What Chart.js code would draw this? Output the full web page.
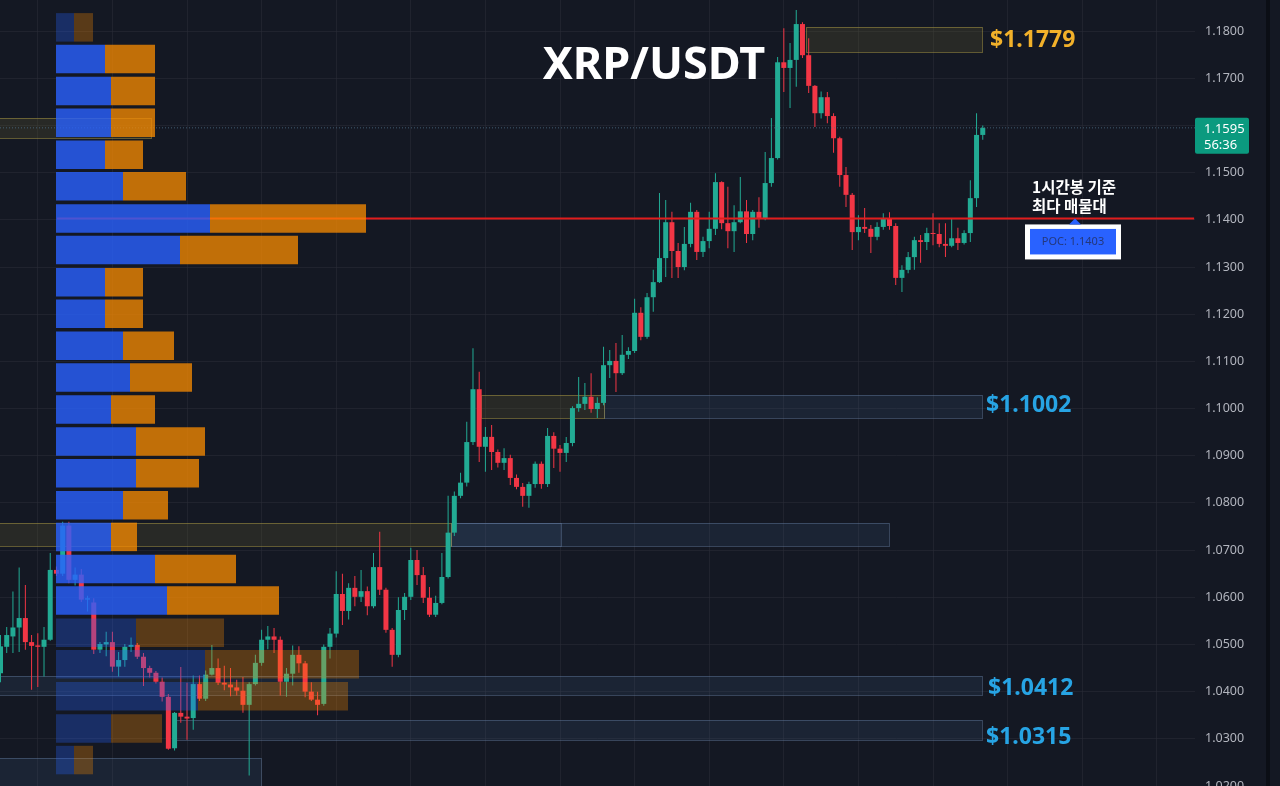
<!DOCTYPE html>
<html><head><meta charset="utf-8">
<script src="https://cdn.jsdelivr.net/npm/chart.js@4.4.1/dist/chart.umd.min.js"></script>
<style>html,body{margin:0;padding:0;background:#141823;overflow:hidden}canvas{display:block}</style>
</head><body><canvas id="c" width="1280" height="786"></canvas>
<script>
// ---- 1H candles XRP/USDT (index 0 = leftmost visible) ----
const candleOpen = [
 1.0439,1.0495,1.0517,1.0536,1.0556,1.0505,1.0498,1.0495,1.0510,1.0658,
 1.0650,1.0752,1.0637,1.0648,1.0595,1.0589,1.0489,1.0500,1.0505,1.0453,
 1.0467,1.0495,1.0499,1.0474,1.0450,1.0440,1.0421,1.0389,1.0280,1.0355,
 1.0347,1.0344,1.0416,1.0385,1.0436,1.0450,1.0419,1.0415,1.0409,1.0402,
 1.0372,1.0416,1.0461,1.0510,1.0517,1.0510,1.0421,1.0438,1.0478,1.0460,
 1.0400,1.0383,1.0374,1.0495,1.0523,1.0607,1.0571,1.0620,1.0601,1.0613,
 1.0581,1.0664,1.0616,1.0531,1.0478,1.0573,1.0601,1.0679,1.0647,1.0599,
 1.0563,1.0588,1.0643,1.0737,1.0815,1.0843,1.0929,1.1041,1.0919,1.0940,
 1.0908,1.0885,1.0895,1.0853,1.0834,1.0815,1.0840,1.0883,1.0840,1.0942,
 1.0915,1.0906,1.0927,1.1001,1.1010,1.1025,1.0999,1.1012,1.1092,1.1101,
 1.1075,1.1114,1.1122,1.1203,1.1152,1.1236,1.1268,1.1319,1.1395,1.1334,
 1.1300,1.1349,1.1417,1.1332,1.1355,1.1381,1.1480,1.1393,1.1376,1.1395,
 1.1418,1.1370,1.1417,1.1404,1.1478,1.1531,1.1734,1.1722,1.1739,1.1815,
 1.1749,1.1684,1.1626,1.1660,1.1620,1.1573,1.1495,1.1453,1.1374,1.1385,
 1.1381,1.1364,1.1385,1.1402,1.1387,1.1277,1.1294,1.1321,1.1357,1.1353,
 1.1372,1.1370,1.1349,1.1345,1.1361,1.1351,1.1372,1.1446,1.1580];
const candleHigh = [
 1.0520,1.0537,1.0612,1.0663,1.0626,1.0520,1.0524,1.0537,1.0694,1.0665,
 1.0760,1.0760,1.0663,1.0660,1.0603,1.0598,1.0505,1.0527,1.0527,1.0484,
 1.0501,1.0515,1.0503,1.0482,1.0455,1.0444,1.0430,1.0395,1.0357,1.0452,
 1.0419,1.0434,1.0434,1.0445,1.0499,1.0470,1.0455,1.0450,1.0425,1.0431,
 1.0420,1.0478,1.0531,1.0539,1.0535,1.0517,1.0450,1.0498,1.0496,1.0465,
 1.0420,1.0400,1.0500,1.0535,1.0655,1.0650,1.0630,1.0645,1.0658,1.0623,
 1.0694,1.0739,1.0620,1.0535,1.0600,1.0609,1.0705,1.0700,1.0664,1.0622,
 1.0603,1.0694,1.0815,1.0824,1.0864,1.0972,1.1128,1.1078,1.0961,1.0965,
 1.0913,1.0916,1.0902,1.0860,1.0842,1.0845,1.0888,1.0888,1.0959,1.0950,
 1.0923,1.0940,1.1005,1.1067,1.1054,1.1075,1.1024,1.1131,1.1124,1.1139,
 1.1156,1.1130,1.1233,1.1215,1.1245,1.1294,1.1457,1.1442,1.1417,1.1351,
 1.1385,1.1436,1.1421,1.1364,1.1417,1.1499,1.1482,1.1470,1.1431,1.1491,
 1.1442,1.1421,1.1448,1.1544,1.1616,1.1745,1.1806,1.1775,1.1845,1.1819,
 1.1785,1.1686,1.1672,1.1671,1.1626,1.1576,1.1512,1.1457,1.1410,1.1425,
 1.1389,1.1395,1.1414,1.1416,1.1393,1.1304,1.1332,1.1364,1.1368,1.1383,
 1.1414,1.1393,1.1393,1.1404,1.1383,1.1378,1.1484,1.1626,1.1600];
const candleLow = [
 1.0420,1.0482,1.0482,1.0484,1.0489,1.0404,1.0410,1.0432,1.0508,1.0645,
 1.0645,1.0630,1.0625,1.0590,1.0570,1.0480,1.0482,1.0475,1.0442,1.0432,
 1.0453,1.0484,1.0469,1.0412,1.0430,1.0417,1.0379,1.0277,1.0275,1.0334,
 1.0298,1.0319,1.0380,1.0380,1.0434,1.0414,1.0403,1.0390,1.0392,1.0355,
 1.0222,1.0413,1.0455,1.0490,1.0482,1.0392,1.0389,1.0413,1.0440,1.0388,
 1.0380,1.0350,1.0370,1.0470,1.0515,1.0541,1.0553,1.0581,1.0590,1.0562,
 1.0577,1.0605,1.0525,1.0453,1.0473,1.0552,1.0594,1.0626,1.0588,1.0558,
 1.0558,1.0585,1.0640,1.0730,1.0810,1.0835,1.0923,1.0887,1.0866,1.0870,
 1.0875,1.0870,1.0838,1.0829,1.0792,1.0790,1.0832,1.0830,1.0834,1.0874,
 1.0866,1.0887,1.0920,1.0993,1.0997,1.0991,1.0980,1.1007,1.1065,1.1035,
 1.1071,1.1105,1.1118,1.1145,1.1148,1.1205,1.1266,1.1279,1.1277,1.1277,
 1.1293,1.1342,1.1315,1.1321,1.1340,1.1368,1.1380,1.1340,1.1332,1.1393,
 1.1351,1.1357,1.1383,1.1399,1.1470,1.1528,1.1671,1.1637,1.1682,1.1743,
 1.1669,1.1597,1.1615,1.1605,1.1542,1.1470,1.1427,1.1336,1.1357,1.1372,
 1.1330,1.1357,1.1379,1.1379,1.1262,1.1247,1.1287,1.1294,1.1309,1.1336,
 1.1346,1.1342,1.1321,1.1342,1.1336,1.1348,1.1353,1.1427,1.1570];
const candleClose = [
 1.0496,1.0520,1.0536,1.0556,1.0505,1.0497,1.0495,1.0510,1.0658,1.0650,
 1.0752,1.0637,1.0648,1.0595,1.0598,1.0489,1.0501,1.0505,1.0453,1.0467,
 1.0495,1.0499,1.0474,1.0450,1.0440,1.0421,1.0389,1.0279,1.0355,1.0347,
 1.0343,1.0416,1.0385,1.0436,1.0450,1.0419,1.0415,1.0409,1.0402,1.0372,
 1.0416,1.0461,1.0510,1.0517,1.0510,1.0421,1.0438,1.0478,1.0460,1.0400,
 1.0383,1.0372,1.0495,1.0523,1.0607,1.0571,1.0620,1.0601,1.0613,1.0581,
 1.0664,1.0616,1.0531,1.0478,1.0573,1.0601,1.0679,1.0647,1.0599,1.0563,
 1.0588,1.0643,1.0737,1.0815,1.0843,1.0929,1.1041,1.0919,1.0940,1.0908,
 1.0885,1.0895,1.0853,1.0834,1.0815,1.0840,1.0883,1.0840,1.0942,1.0915,
 1.0906,1.0927,1.1001,1.1010,1.1025,1.0999,1.1012,1.1092,1.1101,1.1075,
 1.1114,1.1122,1.1203,1.1152,1.1236,1.1268,1.1319,1.1395,1.1334,1.1300,
 1.1349,1.1417,1.1332,1.1355,1.1381,1.1480,1.1393,1.1376,1.1395,1.1418,
 1.1370,1.1417,1.1404,1.1478,1.1531,1.1734,1.1722,1.1739,1.1815,1.1749,
 1.1684,1.1626,1.1660,1.1620,1.1573,1.1495,1.1453,1.1374,1.1385,1.1381,
 1.1364,1.1385,1.1402,1.1387,1.1277,1.1294,1.1321,1.1357,1.1353,1.1372,
 1.1370,1.1349,1.1345,1.1361,1.1351,1.1372,1.1446,1.1580,1.1595];

// ---- Volume profile rows ----
const profilePrices = [1.1808,1.1741,1.1673,1.1606,1.1538,1.1471,1.1403,1.1336,1.1268,1.1201,1.1133,1.1066,
                       1.0998,1.0930,1.0863,1.0795,1.0728,1.0660,1.0593,1.0525,1.0458,1.0390,1.0322,1.0255];
const profileBuy  = [18,49,55,55,49,67,154,124,49,49,67,74,55,80,80,67,55,99,111,80,149,142,55,18];
const profileSell = [19,50,44,44,38,63,156,118,38,38,51,62,44,69,63,45,26,81,112,88,154,150,51,19];
const valueArea   = [0,1,1,1,1,1,1,1,1,1,1,1,1,1,1,1,1,1,1,0,0,0,0,0];
const pocPrice = 1.1403;

// ---- Zones (price top/bottom, candle index start/end) ----
const zoneTop    = [1.1808, 1.1616, 1.1029, 1.1029, 1.0757, 1.0757, 1.0757, 1.0433, 1.0340, 1.0260];
const zoneBottom = [1.1756, 1.1573, 1.0980, 1.0980, 1.0709, 1.0709, 1.0709, 1.0393, 1.0298, 1.0150];
const zoneStart  = [129.6, -2, 97.1, 77.3, 72.5, 72.5, -2, -2, 28.2, -2];
const zoneEnd    = [157.9, 24.2, 157.9, 97.1, 142.9, 90.2, 72.5, 157.9, 157.9, 41.9];
const zoneKind   = ['supply','supply','support','supply','support','support','supply','support','support','support'];

// ---- Axis ticks ----
const priceTicks = [1.02,1.03,1.04,1.05,1.06,1.07,1.08,1.09,1.10,1.11,1.12,1.13,1.14,1.15,1.16,1.17,1.18];
const hourTicks = [6,18,30,42,54,66,78,90,102,114,126,138,150,162,174,186];

const UP = '#22ab94', DOWN = '#f23645';
const candleColors = candleOpen.map((o, i) => candleClose[i] >= o ? UP : DOWN);
const lastIdx = candleClose.length - 1;
const lastPrice = candleClose[lastIdx];
const X_MIN = -0.08, X_MAX = 192.14;

const zoneStyle = {
  supply:  { fill: 'rgba(120,112,50,0.20)', stroke: 'rgba(160,145,65,0.55)' },
  support: { fill: 'rgba(70,100,140,0.16)', stroke: 'rgba(100,125,160,0.45)' }
};

const overlay = {
  id: 'overlay',
  beforeDraw(chart) {
    const c = chart.ctx;
    c.save(); c.fillStyle = '#141823'; c.fillRect(0, 0, chart.width, chart.height); c.restore();
  },
  beforeDatasetsDraw(chart) {
    const { ctx, chartArea: a, scales: { x, y } } = chart;
    ctx.save();
    ctx.beginPath(); ctx.rect(a.left, a.top, a.right - a.left, a.bottom - a.top); ctx.clip();
    zoneTop.forEach((t, k) => {
      const x0 = Math.round(x.getPixelForValue(zoneStart[k]));
      const x1 = Math.round(x.getPixelForValue(zoneEnd[k]));
      const y0 = Math.round(y.getPixelForValue(t));
      const y1 = Math.round(y.getPixelForValue(zoneBottom[k]));
      const st = zoneStyle[zoneKind[k]];
      ctx.fillStyle = st.fill; ctx.fillRect(x0, y0, x1 - x0, y1 - y0);
      ctx.strokeStyle = st.stroke; ctx.lineWidth = 1;
      ctx.strokeRect(x0 + 0.5, y0 + 0.5, x1 - x0, y1 - y0);
    });
    ctx.restore();
  },
  afterDraw(chart) {
    const { ctx, scales: { y } } = chart;
    ctx.save();
    ctx.textBaseline = 'alphabetic';
    // title
    ctx.fillStyle = '#ffffff'; ctx.textAlign = 'center';
    ctx.font = 'bold 45px "Noto Sans"';
    ctx.fillText('XRP/USDT', 654, 79);
    // key level labels
    ctx.textAlign = 'left';
    ctx.font = 'bold 23px "Noto Sans"';
    ctx.fillStyle = '#f2b12a'; ctx.fillText('$1.1779', 990, 47);
    ctx.fillStyle = '#27a4e4';
    ctx.fillText('$1.1002', 986, 412);
    ctx.fillText('$1.0412', 988, 695);
    ctx.fillText('$1.0315', 986, 744);
    // Korean note
    ctx.fillStyle = '#ffffff';
    ctx.font = 'bold 15.5px "Noto Sans CJK KR"';
    ctx.fillText('1시간봉 기준', 1032, 193);
    ctx.fillText('최다 매물대', 1032, 212);
    // POC badge
    const py = y.getPixelForValue(pocPrice);
    ctx.fillStyle = '#ffffff'; ctx.fillRect(1025, py + 6, 96, 35);
    ctx.fillStyle = '#2962ff'; ctx.fillRect(1030, py + 10.5, 86, 25.5);
    ctx.beginPath(); ctx.moveTo(1069, py + 6); ctx.lineTo(1081, py + 6); ctx.lineTo(1075, py); ctx.closePath(); ctx.fill();
    ctx.fillStyle = 'rgba(35,45,90,0.8)'; ctx.font = '11px "Noto Sans"'; ctx.textAlign = 'center';
    ctx.fillText('POC: 1.1403', 1073, py + 27);
    // last price tag
    const ly = y.getPixelForValue(lastPrice);
    ctx.fillStyle = '#0b9a7f';
    ctx.beginPath(); ctx.roundRect(1195, ly - 10, 54, 36, 2); ctx.fill();
    ctx.fillStyle = '#ffffff'; ctx.font = '13px "Noto Sans"'; ctx.textAlign = 'left';
    ctx.fillText(lastPrice.toFixed(4), 1204, ly + 5);
    ctx.fillText('56:36', 1204, ly + 21);
    // panel divider
    ctx.fillStyle = '#0b0e15'; ctx.fillRect(1266, 0, 4, chart.height);
    ctx.restore();
  }
};

const gridColor = 'rgba(42,46,57,0.55)';
new Chart(document.getElementById('c'), {
  type: 'bar',
  data: {
    datasets: [
      { label: 'Buy volume', indexAxis: 'y', xAxisID: 'xv', yAxisID: 'yv',
        data: profilePrices.map((p, k) => ({ y: p, x: [0, profileBuy[k]] })),
        backgroundColor: valueArea.map(v => v ? 'rgba(41,98,255,0.80)' : 'rgba(41,98,255,0.30)'),
        barThickness: 28.5, grouped: false, inflateAmount: 0, borderWidth: 0 },
      { label: 'Sell volume', indexAxis: 'y', xAxisID: 'xv', yAxisID: 'yv',
        data: profilePrices.map((p, k) => ({ y: p, x: [profileBuy[k], profileBuy[k] + profileSell[k]] })),
        backgroundColor: valueArea.map(v => v ? 'rgba(251,140,0,0.75)' : 'rgba(251,140,0,0.30)'),
        barThickness: 28.5, grouped: false, inflateAmount: 0, borderWidth: 0 },
      { type: 'line', label: 'POC', xAxisID: 'x', yAxisID: 'y',
        data: [{ x: 9.1, y: pocPrice }, { x: 192.0, y: pocPrice }],
        borderColor: '#e11d1d', borderWidth: 2, pointRadius: 0 },
      { type: 'line', label: 'Last', xAxisID: 'x', yAxisID: 'y',
        data: [{ x: X_MIN, y: lastPrice }, { x: X_MAX, y: lastPrice }],
        borderColor: 'rgba(80,115,140,0.75)', borderDash: [1, 2], borderWidth: 1, pointRadius: 0 },
      { label: 'Body', xAxisID: 'x', yAxisID: 'y',
        data: candleOpen.map((o, i) => ({ x: i, y: [o, candleClose[i]] })),
        backgroundColor: candleColors, barThickness: 5, minBarLength: 1,
        grouped: false, inflateAmount: 0, borderWidth: 0 },
      { label: 'Wick', xAxisID: 'x', yAxisID: 'y',
        data: candleLow.map((l, i) => ({ x: i, y: [l, candleHigh[i]] })),
        backgroundColor: candleColors, barThickness: 1,
        grouped: false, inflateAmount: 0, borderWidth: 0 }
    ]
  },
  options: {
    responsive: false, animation: false, devicePixelRatio: 1,
    layout: { padding: 0 },
    plugins: { legend: { display: false }, tooltip: { enabled: false } },
    scales: {
      x: { type: 'linear', axis: 'x', min: X_MIN, max: X_MAX, offset: false,
           grid: { color: gridColor, drawTicks: false, offset: false }, border: { display: false },
           ticks: { display: false },
           afterBuildTicks: s => { s.ticks = hourTicks.map(v => ({ value: v })); },
           afterFit: s => { s.height = 0; s.paddingLeft = 0; s.paddingRight = 0; } },
      y: { type: 'linear', axis: 'y', position: 'right', min: 1.02, max: 1.1866, beginAtZero: false, offset: false,
           grid: { color: gridColor, drawTicks: false }, border: { display: false },
           ticks: { color: '#b2b5be', padding: 10, font: { family: 'Noto Sans', size: 12.5 },
                    callback: v => Number(v).toFixed(4) },
           afterBuildTicks: s => { s.ticks = priceTicks.map(v => ({ value: v })); },
           afterFit: s => { s.width = 85; s.paddingTop = 0; s.paddingBottom = 0; } },
      xv: { type: 'linear', axis: 'x', display: false, min: -56, max: 1139, offset: false, beginAtZero: false },
      yv: { type: 'linear', axis: 'y', display: false, min: 1.02, max: 1.1866, offset: false, beginAtZero: false }
    }
  },
  plugins: [overlay]
});
</script>
</body></html>
